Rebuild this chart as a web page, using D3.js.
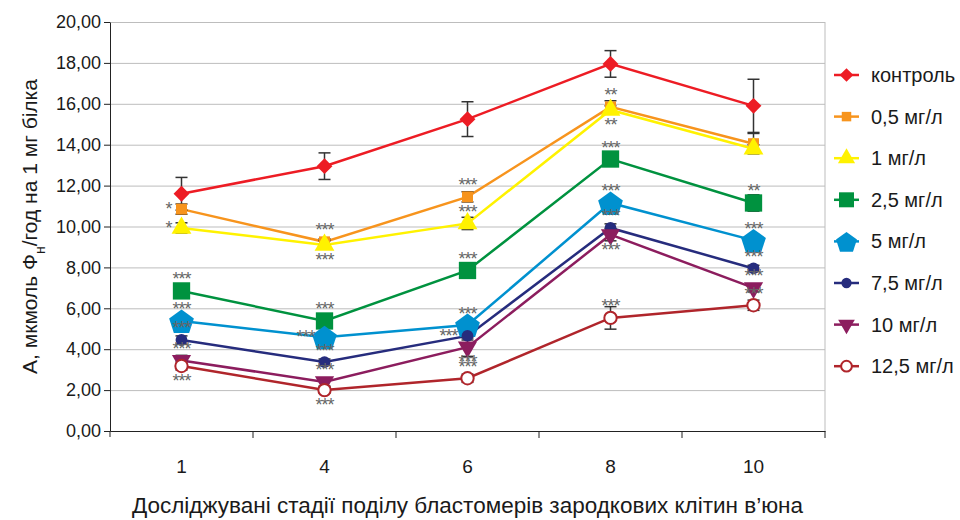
<!DOCTYPE html>
<html>
<head>
<meta charset="utf-8">
<script src="https://cdn.jsdelivr.net/npm/d3@7"></script>
<style>
  body { margin: 0; background: #fff; }
  #chart { width: 960px; height: 520px; }
  text { font-family: "Liberation Sans", Arial, sans-serif; fill: #1a1a1a; }
  .grid line { stroke: #bdbdbd; }
  .grid path { display: none; }
  .axis path, .axis line { stroke: #222; }
  .stars { fill: #666; font-size: 18px; letter-spacing: -1px; }
</style>
</head>
<body>
<div id="chart"></div>
<script>
// stages on x axis
var stages = ["1", "4", "6", "8", "10"];
var yTicks = [0, 2, 4, 6, 8, 10, 12, 14, 16, 18, 20];

var seriesNames = ["контроль", "0,5 мг/л", "1 мг/л", "2,5 мг/л", "5 мг/л", "7,5 мг/л", "10 мг/л", "12,5 мг/л"];
var control = [11.6, 12.95, 15.25, 17.95, 15.9];
var dose05 = [10.85, 9.25, 11.45, 15.85, 14.05];
var dose1 = [9.93, 9.1, 10.15, 15.7, 13.8];
var dose25 = [6.85, 5.38, 7.85, 13.3, 11.15];
var dose5 = [5.38, 4.58, 5.18, 11.15, 9.32];
var dose75 = [4.45, 3.37, 4.65, 9.93, 7.95];
var dose10 = [3.45, 2.4, 4.1, 9.6, 7.0];
var dose125 = [3.18, 2.0, 2.58, 5.53, 6.15];

var errControl = [0.8, 0.65, 0.85, 0.65, 1.3];
var errDose05 = [0.25, 0.15, 0.25, 0.3, 0.5];
var errDose1 = [0.25, 0.2, 0.3, 0.2, 0.2];
var errDose25 = [0.3, 0.15, 0.3, 0.2, 0.4];
var errDose5 = [0.2, 0.15, 0.2, 0.2, 0.2];
var errDose75 = [0.2, 0.15, 0.2, 0.2, 0.15];
var errDose10 = [0.25, 0.2, 0.45, 0.3, 0.2];
var errDose125 = [0.2, 0.15, 0.2, 0.55, 0.25];

// significance marks: series index, stage index, label, side
var stars = [
  [1, 0, "*", "left"], [2, 0, "*", "left"], [3, 0, "***", "above"], [4, 0, "***", "above"],
  [5, 0, "***", "above"], [6, 0, "***", "above"], [7, 0, "***", "below"],
  [1, 1, "***", "above"], [2, 1, "***", "below"], [3, 1, "***", "above"], [4, 1, "***", "left"],
  [5, 1, "***", "above"], [6, 1, "***", "above"], [7, 1, "***", "below"],
  [1, 2, "***", "above"], [2, 2, "***", "above"], [3, 2, "***", "above"], [4, 2, "***", "above"],
  [5, 2, "***", "left"], [6, 2, "***", "below"], [7, 2, "***", "above"],
  [1, 3, "**", "above"], [2, 3, "**", "below"], [3, 3, "***", "above"], [4, 3, "***", "above"],
  [5, 3, "***", "above"], [6, 3, "***", "below"], [7, 3, "***", "above"],
  [3, 4, "**", "above"], [4, 4, "***", "above"], [5, 4, "***", "above"],
  [6, 4, "***", "above"], [7, 4, "***", "above"]
];

(function () {
    var values = [control, dose05, dose1, dose25, dose5, dose75, dose10, dose125];
    var errors = [errControl, errDose05, errDose1, errDose25, errDose5, errDose75, errDose10, errDose125];
    var colors = ["#ed1c24", "#f7941d", "#fff200", "#00923f", "#0091cf", "#262c7d", "#8c1d5e", "#b0252b"];
    var shapes = [
        {type: d3.symbolDiamond2, size: 160, fill: true},
        {type: d3.symbolSquare, size: 120, fill: true},
        {type: d3.symbolTriangle, size: 170, fill: true},
        {type: d3.symbolSquare, size: 300, fill: true},
        {type: "pentagon", size: 13, fill: true},
        {type: d3.symbolCircle, size: 110, fill: true},
        {type: "triangleDown", size: 160, fill: true},
        {type: d3.symbolCircle, size: 120, fill: false}
    ];

    var margin = {top: 22, right: 135, bottom: 89, left: 110},
        width = 960 - margin.left - margin.right,
        height = 520 - margin.top - margin.bottom;

    var svg = d3.select("#chart").append("svg")
            .attr("width", 960)
            .attr("height", 520);
    var g = svg.append("g")
            .attr("transform", "translate(" + margin.left + "," + margin.top + ")");

    var x = d3.scaleBand().domain(stages).range([0, width]);
    var y = d3.scaleLinear().domain([0, 20]).range([height, 0]);
    var cx = function (i) { return x(stages[i]) + x.bandwidth() / 2; };

    function symbolPath(s) {
        if (s.type === "pentagon") {
            var pts = d3.range(5).map(function (k) {
                var a = -Math.PI / 2 + k * 2 * Math.PI / 5;
                return [s.size * Math.cos(a), s.size * Math.sin(a) + 1.5];
            });
            return "M" + pts.join("L") + "Z";
        }
        if (s.type === "triangleDown") {
            return d3.symbol().type(d3.symbolTriangle).size(s.size)().replace(/(-?[\d.]+),(-?[\d.]+)/g, function (m, a, b) {
                return a + "," + (-b);
            });
        }
        return d3.symbol().type(s.type).size(s.size)();
    }

    // gridlines
    g.append("g").attr("class", "grid")
            .call(d3.axisLeft(y).tickValues(yTicks).tickSize(-width).tickFormat(""));
    g.append("line").attr("x1", width).attr("x2", width).attr("y1", 0).attr("y2", height)
            .attr("stroke", "#bdbdbd");

    // axes
    g.append("g").attr("class", "axis")
            .call(d3.axisLeft(y).tickValues(yTicks).tickSize(6).tickSizeOuter(0)
                    .tickFormat(function (d) { return d3.format(".2f")(d).replace(".", ","); }))
            .selectAll("text").style("font-size", "18px").attr("x", -9);
    g.append("line").attr("x1", 0).attr("x2", 0).attr("y1", height).attr("y2", height + 6).attr("stroke", "#222");

    var xAxis = g.append("g").attr("class", "axis")
            .attr("transform", "translate(0," + height + ")")
            .call(d3.axisBottom(x).tickSize(0).tickSizeOuter(0));
    xAxis.selectAll("text").style("font-size", "19px").attr("y", 29);
    xAxis.selectAll(".sep").data(d3.range(1, stages.length + 1)).enter().append("line")
            .attr("x1", function (i) { return i * x.bandwidth(); })
            .attr("x2", function (i) { return i * x.bandwidth(); })
            .attr("y1", 0).attr("y2", 7).attr("stroke", "#222");

    // lines
    var line = d3.line().x(function (d, i) { return cx(i); }).y(function (d) { return y(d); });
    values.forEach(function (vals, s) {
        g.append("path").datum(vals)
                .attr("fill", "none")
                .attr("stroke", colors[s])
                .attr("stroke-width", 2.5)
                .attr("d", line);
    });

    // error bars
    values.forEach(function (vals, s) {
        var eb = g.append("g").attr("stroke", "#333").attr("stroke-width", 1.5);
        vals.forEach(function (v, i) {
            var e = errors[s][i];
            eb.append("line").attr("x1", cx(i)).attr("x2", cx(i)).attr("y1", y(v - e)).attr("y2", y(v + e));
            [v - e, v + e].forEach(function (t) {
                eb.append("line").attr("x1", cx(i) - 6).attr("x2", cx(i) + 6).attr("y1", y(t)).attr("y2", y(t));
            });
        });
    });

    // markers
    values.forEach(function (vals, s) {
        g.selectAll(".m" + s).data(vals).enter().append("path")
                .attr("transform", function (d, i) { return "translate(" + cx(i) + "," + y(d) + ")"; })
                .attr("d", symbolPath(shapes[s]))
                .attr("fill", shapes[s].fill ? colors[s] : "#fff")
                .attr("stroke", colors[s])
                .attr("stroke-width", shapes[s].fill ? 0 : 2);
    });

    // asterisks
    g.selectAll(".stars").data(stars).enter().append("text")
            .attr("class", "stars")
            .attr("text-anchor", function (d) { return d[3] === "left" ? "end" : "middle"; })
            .attr("x", function (d) { return d[3] === "left" ? cx(d[1]) - 10 : cx(d[1]); })
            .attr("y", function (d) {
                var v = values[d[0]][d[1]];
                if (d[3] === "above") return y(v) - 5.5;
                if (d[3] === "below") return y(v) + 21;
                return y(v) + 6;
            })
            .text(function (d) { return d[2]; });

    // legend
    var legend = svg.append("g").attr("transform", "translate(834,75)");
    seriesNames.forEach(function (name, s) {
        var row = legend.append("g").attr("transform", "translate(0," + (s * 41.6) + ")");
        row.append("line").attr("x1", 0).attr("x2", 25).attr("stroke", colors[s]).attr("stroke-width", 2.5);
        var sh = Object.assign({}, shapes[s]);
        sh.size = sh.type === "pentagon" ? 11 : sh.size * 0.75;
        row.append("path").attr("transform", "translate(12.5,0)")
                .attr("d", symbolPath(sh))
                .attr("fill", sh.fill ? colors[s] : "#fff")
                .attr("stroke", colors[s])
                .attr("stroke-width", sh.fill ? 0 : 2);
        row.append("text").attr("x", 37).attr("y", 7).style("font-size", "20px").text(name);
    });

    // axis titles
    var yt = svg.append("text")
            .attr("transform", "translate(37," + (margin.top + height / 2) + ") rotate(-90)")
            .attr("text-anchor", "middle")
            .style("font-size", "21px");
    yt.append("tspan").text("А, мкмоль Ф");
    yt.append("tspan").attr("baseline-shift", "sub").style("font-size", "14px").text("н");
    yt.append("tspan").text("/год на 1 мг білка");

    svg.append("text")
            .attr("x", margin.left + width / 2)
            .attr("y", 513)
            .attr("text-anchor", "middle")
            .style("font-size", "22.5px")
            .text("Досліджувані стадії поділу бластомерів зародкових клітин в’юна");
})();
</script>
</body>
</html>
